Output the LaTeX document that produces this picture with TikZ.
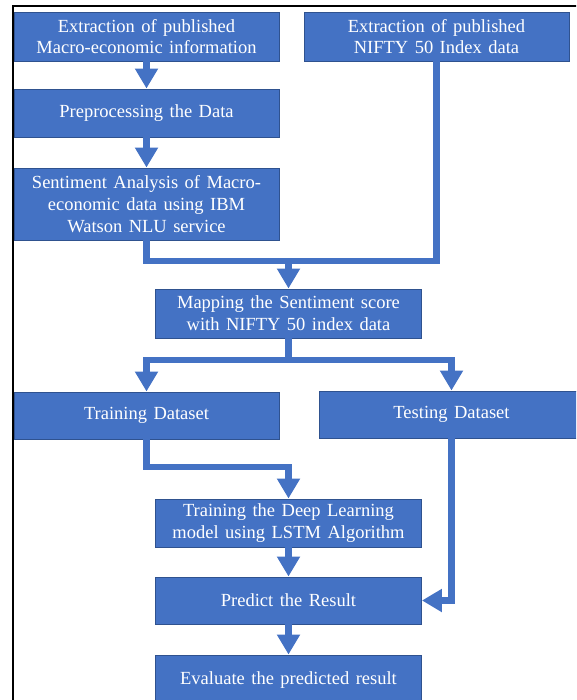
\documentclass[tikz,border=0pt]{standalone}
\usepackage{fontspec}
\setmainfont{Liberation Serif}[WordSpace={1.4}]
\usetikzlibrary{arrows.meta}
\definecolor{boxblue}{HTML}{4472C4}
\definecolor{boxedge}{HTML}{2F528F}
\begin{document}
\begin{tikzpicture}[x=1pt,y=-1pt,
  box/.style={draw=boxedge,line width=0.9pt,fill=boxblue,text=white,align=center,inner sep=0pt,
    font=\fontsize{18.5}{21.8}\selectfont},
  ln/.style={draw=boxblue,line width=6.5pt,line join=miter},
  arr/.style={ln,-{Triangle[width=22pt,length=20pt]}}]
\useasboundingbox (0,0) rectangle (576,700);
\clip (0,0) rectangle (576,700);
\draw[line width=2pt] (13,701) -- (13,6) -- (577,6);

\node[box,minimum width=265pt,minimum height=49pt] (A) at (146.5,36.5) {Extraction of published\\Macro-economic information};
\node[box,minimum width=265pt,minimum height=49pt] (B) at (436.5,36.5) {Extraction of published\\NIFTY 50 Index data};
\node[box,minimum width=265pt,minimum height=48pt] (C) at (146.5,113) {Preprocessing the Data};
\node[box,minimum width=265pt,minimum height=72pt] (D) at (146.5,204) {Sentiment Analysis of Macro-\\economic data using IBM\\Watson NLU service};
\node[box,minimum width=266pt,minimum height=49pt] (E) at (288.5,313.5) {Mapping the Sentiment score\\with NIFTY 50 index data};
\node[box,minimum width=265pt,minimum height=47pt] (Tr) at (146.5,415.5) {Training Dataset};
\node[box,minimum width=265pt,minimum height=47pt] (Te) at (451.5,414.5) {Testing Dataset};
\node[box,minimum width=266pt,minimum height=48pt] (F) at (288.5,523) {Training the Deep Learning\\model using LSTM Algorithm};
\node[box,minimum width=266pt,minimum height=47pt] (G) at (288.5,600.5) {Predict the Result};
\node[box,minimum width=266pt,minimum height=50pt] (H) at (288.5,680) {Evaluate the predicted result};

\coordinate (j1) at (288.5,261);
\coordinate (j2) at (288.5,360);
\coordinate (j3) at (288.5,467);

\draw[arr] (A.south) -- (C.north);
\draw[arr] (C.south) -- (D.north);
\draw[ln] (D.south) -- (D.south |- j1) -- (j1 -| B.south) -- (B.south);
\draw[arr] (j1) -- (E.north);
\draw[ln] (E.south) -- (j2);
\draw[arr] (j2) -| (Tr.north);
\draw[arr] (j2) -| (Te.north);
\draw[arr] (Tr.south) |- (j3) -- (F.north);
\draw[arr] (Te.south) |- (G.east);
\draw[arr] (F.south) -- (G.north);
\draw[arr] (G.south) -- (H.north);
\end{tikzpicture}
\end{document}
